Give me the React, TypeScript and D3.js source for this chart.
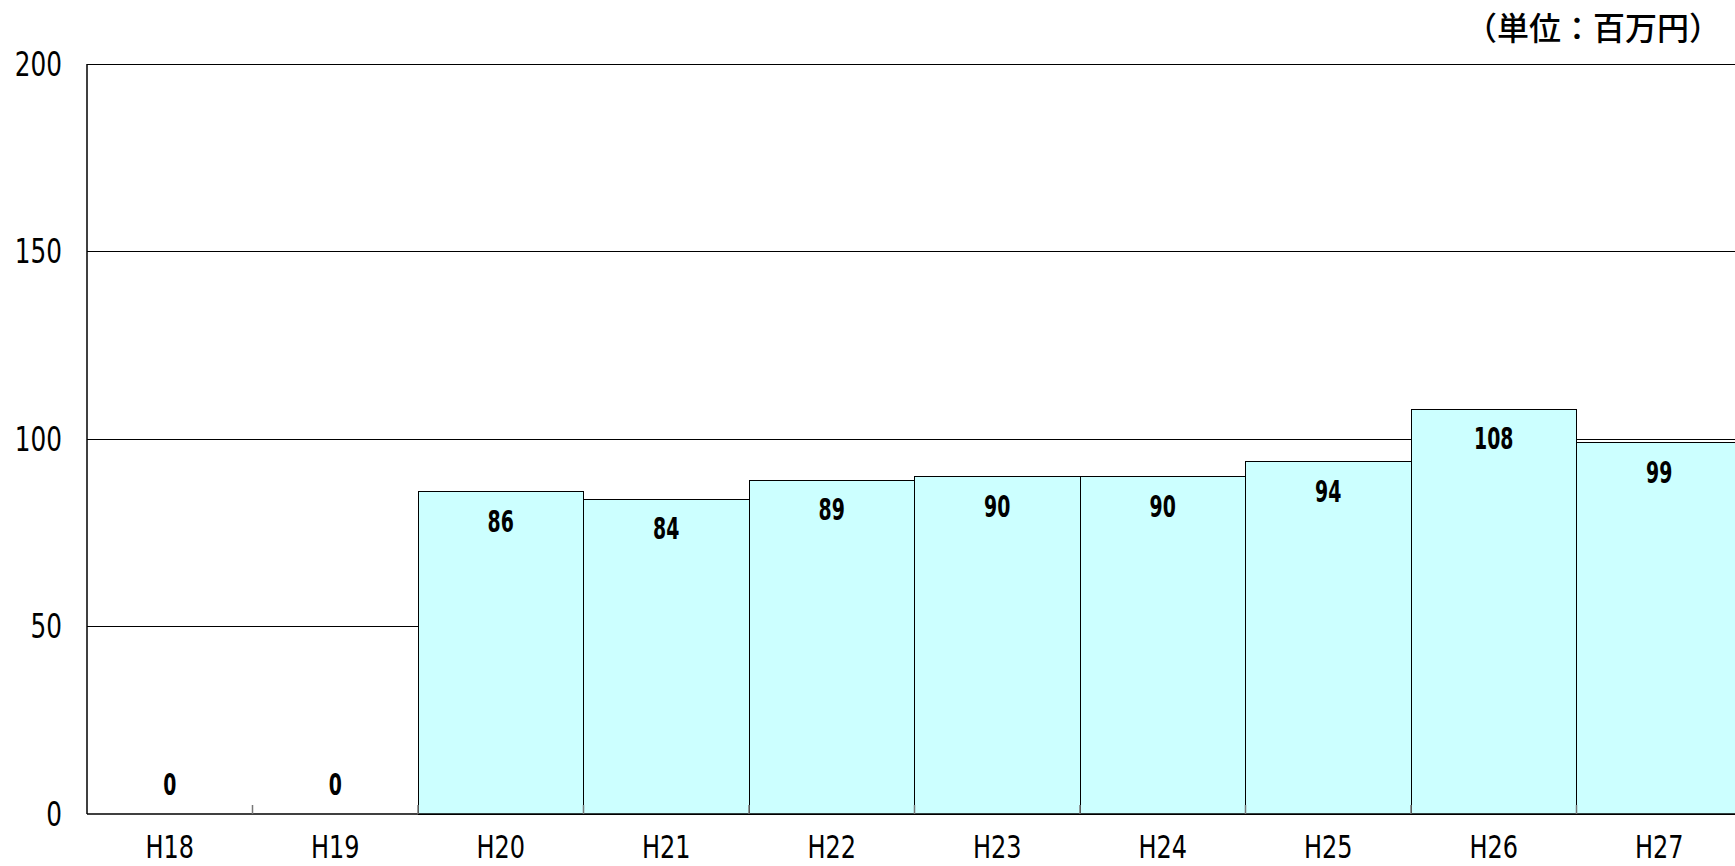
import { FC, ReactNode } from 'react'
import * as d3 from 'd3'

const categories = ['H18', 'H19', 'H20', 'H21', 'H22', 'H23', 'H24', 'H25', 'H26', 'H27']
const amounts = [0, 0, 86, 84, 89, 90, 90, 94, 108, 99]
const yTicks = [0, 50, 100, 150, 200]
const unitLabel = '（単位：百万円）'

const W = 1735
const H = 866
const margin = { top: 64, right: -7, bottom: 52, left: 87 }
const numFont = '"DejaVu Sans", sans-serif'

// narrow text: the original uses a condensed Japanese gothic face
const Narrow: FC<{
  x: number; y: number; sx: number; anchor: string; size: number; bold?: boolean; dy?: string; children: ReactNode
}> = ({ x, y, sx, anchor, size, bold, dy, children }) => (
  <text transform={`translate(${x},${y}) scale(${sx},1)`} textAnchor={anchor} dy={dy}
    fontFamily={numFont} fontSize={size} fontWeight={bold ? 'bold' : 'normal'} fill="#000">
    {children}
  </text>
)

const App: FC = () => {
  const x = d3.scaleBand()
    .domain(categories)
    .range([margin.left, W - margin.right])
    .padding(0)

  const y = d3.scaleLinear()
    .domain([0, 200])
    .range([H - margin.bottom, margin.top])

  const y0 = y(0)
  const right = W - margin.right

  return (
    <div style={{ position: 'fixed', left: 0, top: 0 }}>
      <svg width={W} height={H} style={{ display: 'block', background: '#fff' }}>
        {/* gridlines */}
        {yTicks.filter(t => t > 0).map(t => (
          <line key={t} x1={margin.left} x2={right} y1={y(t)} y2={y(t)}
            stroke="#000" strokeWidth={1} shapeRendering="crispEdges" />
        ))}

        {/* bars */}
        {categories.map((c, i) => amounts[i] > 0 && (
          <rect key={c} x={x(c)} y={y(amounts[i])} width={x.bandwidth()}
            height={y0 - y(amounts[i])} fill="#CCFFFF" stroke="#000" strokeWidth={1}
            shapeRendering="crispEdges" />
        ))}

        {/* axes */}
        <line x1={margin.left} x2={margin.left} y1={y(200)} y2={y0} stroke="#000" strokeWidth={1.5} />
        <line x1={margin.left} x2={right} y1={y0} y2={y0} stroke="#000" strokeWidth={1.5} />
        {categories.map(c => (
          <line key={c} x1={x(c)! + x.bandwidth()} x2={x(c)! + x.bandwidth()} y1={y0} y2={y0 - 9}
            stroke="#777" strokeWidth={1.5} />
        ))}

        {/* y tick labels */}
        {yTicks.map(t => (
          <Narrow key={t} x={62} y={y(t)} dy="0.36em" anchor="end" size={33} sx={0.75}>{t}</Narrow>
        ))}

        {/* x tick labels */}
        {categories.map(c => (
          <Narrow key={c} x={x(c)! + x.bandwidth() / 2} y={858} anchor="middle" size={32} sx={0.75}>{c}</Narrow>
        ))}

        {/* value labels */}
        {categories.map((c, i) => (
          <Narrow key={c} x={x(c)! + x.bandwidth() / 2}
            y={amounts[i] === 0 ? y0 - 19 : y(amounts[i]) + 40}
            anchor="middle" size={30} sx={0.63} bold>{amounts[i]}</Narrow>
        ))}

        <text x={1721} y={40} textAnchor="end" fontFamily='"Noto Sans CJK JP", sans-serif'
          fontSize={32} fontWeight={500} fill="#000">{unitLabel}</text>
      </svg>
    </div>
  )
}

export default App
